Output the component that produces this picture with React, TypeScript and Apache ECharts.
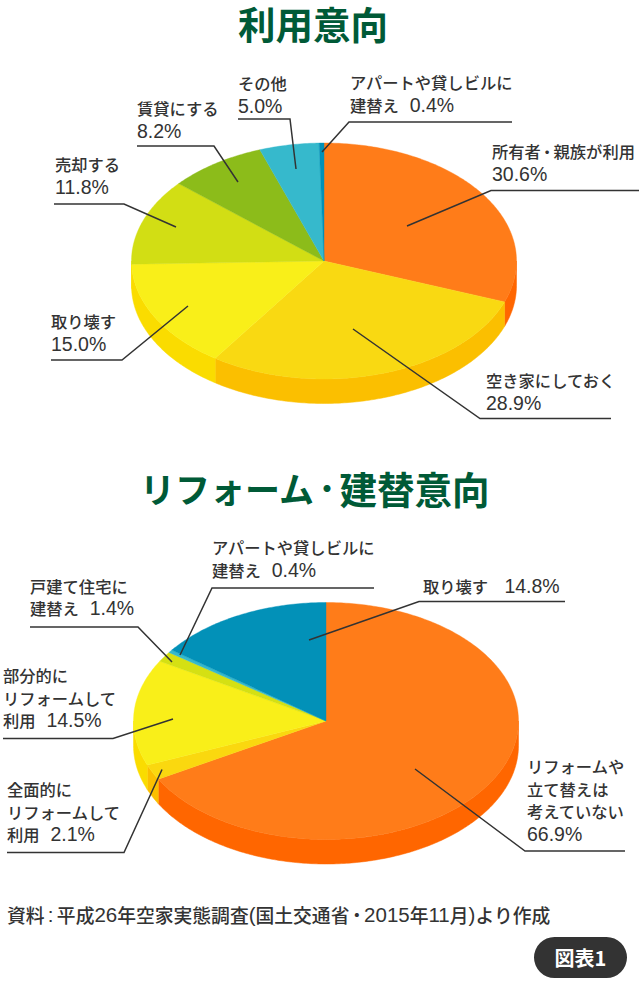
import React, { useEffect, useRef } from "react";
import * as echarts from "echarts";

const title1 = "利用意向";
const categories1 = ["所有者・親族が利用", "空き家にしておく", "取り壊す", "売却する", "賃貸にする", "その他", "アパートや貸しビルに建替え"];
const values1 = [30.6, 28.9, 15.0, 11.8, 8.2, 5.0, 0.4];
const title2Parts = ["リフォーム", "・", "建替意向"];
const categories2 = ["リフォームや立て替えは考えていない", "全面的にリフォームして利用", "部分的にリフォームして利用", "戸建て住宅に建替え", "アパートや貸しビルに建替え", "取り壊す"];
const values2 = [66.9, 2.1, 14.5, 1.4, 0.4, 14.8];
const source = "資料:平成26年空家実態調査(国土交通省・2015年11月)より作成";
const badge = "図表1";

const labelLines1 = [
  ["所有者・親族が利用", "30.6%"],
  ["空き家にしておく", "28.9%"],
  ["取り壊す", "15.0%"],
  ["売却する", "11.8%"],
  ["賃貸にする", "8.2%"],
  ["その他", "5.0%"],
  ["アパートや貸しビルに", "建替え  0.4%"],
];
const labelLines2 = [
  ["リフォームや", "立て替えは", "考えていない", "66.9%"],
  ["全面的に", "リフォームして", "利用  2.1%"],
  ["部分的に", "リフォームして", "利用  14.5%"],
  ["戸建て住宅に", "建替え  1.4%"],
  ["アパートや貸しビルに", "建替え  0.4%"],
  ["取り壊す   14.8%"],
];

// ---- layout and styling, separate from the data ----
const FONT = '"Noto Sans CJK JP", "Noto Sans", sans-serif';
const LATIN = '"Liberation Sans", Arial, sans-serif';
const GREEN = "#005a37";
const INK = "#333333";
const top1 = ["#ff7c19", "#f9d912", "#f9ef19", "#d2de14", "#8cbc1a", "#36b9cc", "#0291b8"];
const side1 = ["#ff6600", "#fbbf00", "#fadc00", "#fadc00", "#8cbc1a", "#36b9cc", "#0291b8"];
const top2 = ["#ff7c19", "#fad80f", "#f9ef19", "#d5e013", "#36b9cc", "#0291b8"];
const side2 = ["#ff6600", "#fbbf00", "#fadc00", "#d5e013", "#36b9cc", "#0291b8"];

const labelPos1 = [[492, 151], [486, 380], [51, 321], [55, 164], [137, 108], [238, 83], [350, 82]];
const labelPos2 = [[527, 766], [7, 789], [3, 675], [30, 585.5], [212, 547], [423, 585.5]];
const leaders1 = [
  [[639, 190.5], [491, 190.5], [407, 226]],
  [[611, 418.5], [480, 418.5], [353, 329]],
  [[51, 360], [122, 360], [188, 306]],
  [[54, 204], [124, 204], [176, 227]],
  [[137, 146], [214, 146], [238, 182]],
  [[238, 119], [290, 119], [296, 169]],
  [[512, 122], [349, 122], [322, 152]],
];
const leaders2 = [
  [[625, 851], [525, 851], [415, 769]],
  [[7, 852.5], [124, 852.5], [162, 769.5]],
  [[3, 738.5], [113, 738.5], [173, 719]],
  [[30, 627], [138, 627], [172, 662]],
  [[374, 588], [212, 588], [180, 655]],
  [[565, 601.5], [419, 601.5], [309, 640]],
];

const P1 = { cx: 324, cy: 261, rx: 192.5, ry: 118, depth: 24.5 };
const P2 = { cx: 326, cy: 721, rx: 192.5, ry: 118.5, depth: 24.5 };

const pt = (P: any, deg: number, dy = 0) => {
  const a = (deg * Math.PI) / 180;
  return [P.cx + P.rx * Math.sin(a), P.cy - P.ry * Math.cos(a) + dy];
};

function arcPoints(P: any, from: number, to: number, dy = 0) {
  const pts: number[][] = [];
  const n = Math.max(1, Math.ceil((to - from) / 0.75));
  for (let i = 0; i <= n; i++) pts.push(pt(P, from + ((to - from) * i) / n, dy));
  return pts;
}

function angles(values: number[]) {
  const total = values.reduce((a, b) => a + b, 0);
  let run = 0;
  return values.map((v) => {
    const s = (run / total) * 360;
    run += v;
    return [s, (run / total) * 360];
  });
}

function wallSeries(values: number[], P: any, colors: string[]) {
  const ang = angles(values);
  return {
    type: "custom",
    coordinateSystem: "none",
    silent: true,
    z: 1,
    data: values,
    renderItem: (params: any) => {
      const [s, e] = ang[params.dataIndex];
      const from = Math.max(s, 90);
      const to = Math.min(e, 270);
      if (to <= from) return { type: "group", children: [] };
      const upper = arcPoints(P, from, to);
      const lower = arcPoints(P, from, to, P.depth).reverse();
      return {
        type: "polygon",
        shape: { points: upper.concat(lower) },
        style: { fill: colors[params.dataIndex], stroke: colors[params.dataIndex], lineWidth: 0.5 },
      };
    },
  };
}

function topSeries(values: number[], names: string[], P: any, colors: string[]) {
  const ang = angles(values);
  return {
    type: "custom",
    coordinateSystem: "none",
    silent: true,
    z: 2,
    data: values.map((v, i) => ({ name: names[i], value: v })),
    renderItem: (params: any) => {
      const [s, e] = ang[params.dataIndex];
      return {
        type: "polygon",
        shape: { points: [[P.cx, P.cy], ...arcPoints(P, s, e)] },
        style: { fill: colors[params.dataIndex], stroke: colors[params.dataIndex], lineWidth: 0.4 },
      };
    },
  };
}

// Splits a line into rich-text runs: numbers, colon and parentheses use a
// Latin face, and the middle dot is set in a tight, small run.
function richLine(line: string) {
  return line
    .split(/([ 0-9.%()]+|[:・])/)
    .filter((t) => t !== "")
    .map((t) => {
      if (t === "・") return `{dot|${t}}`;
      if (t === ":") return `{colon|${t}}`;
      if (/^[ 0-9.%()]+$/.test(t)) return `{n|${t}}`;
      return `{t|${t}}`;
    })
    .join("");
}

function richStyles(size: number, numSize: number, color: string, lh: number) {
  const base = { fontFamily: FONT, fontSize: size, fill: color, color, fontWeight: 500, lineHeight: lh };
  return {
    t: base,
    n: { ...base, fontFamily: LATIN, fontSize: numSize, fontWeight: 400 },
    dot: { ...base, fontSize: size * 0.78, fontWeight: 900 },
    colon: { ...base, fontFamily: LATIN, fontSize: numSize, fontWeight: 400, width: numSize * 0.6, align: "center" },
  };
}

function labelGraphics(lines: string[][], pos: number[][]) {
  return lines.map((ls, i) => ({
    type: "text",
    x: pos[i][0],
    y: pos[i][1],
    z: 20,
    style: {
      text: ls.map(richLine).join("\n"),
      rich: richStyles(16.3, 19.5, INK, 22.5),
      textAlign: "left",
      textVerticalAlign: "top",
      verticalAlign: "top",
      y: -11,
    },
  }));
}

function leaderGraphics(list: number[][][]) {
  return list.map((pts) => ({
    type: "polyline",
    z: 10,
    shape: { points: pts },
    style: { stroke: INK, lineWidth: 1.5, fill: "none" },
  }));
}

const titleRich = {
  a: { fontFamily: FONT, fontSize: 35, fontWeight: 700, fill: GREEN, color: GREEN },
  dot: { fontFamily: FONT, fontSize: 25, fontWeight: 900, fill: GREEN, color: GREEN },
  b: { fontFamily: FONT, fontSize: 37.5, fontWeight: 700, fill: GREEN, color: GREEN },
};

export default function App() {
  const ref = useRef<HTMLDivElement>(null);
  useEffect(() => {
    document.body.style.margin = "0";
    const chart = echarts.init(ref.current!, undefined, { renderer: "svg" });
    chart.setOption({
      animation: false,
      backgroundColor: "#ffffff",
      series: [
        wallSeries(values1, P1, side1),
        topSeries(values1, categories1, P1, top1),
        wallSeries(values2, P2, side2),
        topSeries(values2, categories2, P2, top2),
      ],
      graphic: [
        {
          type: "text",
          x: 313,
          y: 22,
          z: 20,
          style: {
            text: title1,
            fill: GREEN,
            font: `700 37.5px ${FONT}`,
            textAlign: "center",
            textVerticalAlign: "middle",
            verticalAlign: "middle",
          },
        },
        {
          type: "text",
          x: 314.5,
          y: 487,
          z: 20,
          style: {
            text: `{a|${title2Parts[0]}}{dot|${title2Parts[1]}}{b|${title2Parts[2]}}`,
            rich: titleRich,
            textAlign: "center",
            textVerticalAlign: "middle",
            verticalAlign: "middle",
          },
        },
        ...leaderGraphics(leaders1),
        ...leaderGraphics(leaders2),
        ...labelGraphics(labelLines1, labelPos1),
        ...labelGraphics(labelLines2, labelPos2),
        {
          type: "text",
          x: 7,
          y: 914,
          z: 20,
          style: {
            text: richLine(source),
            rich: richStyles(18.8, 20.5, INK, 24),
            textAlign: "left",
            verticalAlign: "middle",
            textVerticalAlign: "middle",
          },
        },
        {
          type: "rect",
          z: 15,
          shape: { x: 534, y: 937, width: 93, height: 41, r: 20.5 },
          style: { fill: "#333333" },
        },
        {
          type: "text",
          x: 580.5,
          y: 957.5,
          z: 20,
          style: {
            text: badge,
            fill: "#ffffff",
            font: `700 20px ${FONT}`,
            textAlign: "center",
            textVerticalAlign: "middle",
            verticalAlign: "middle",
          },
        },
      ],
    });
    return () => chart.dispose();
  }, []);
  return <div ref={ref} style={{ width: 640, height: 990 }} />;
}
